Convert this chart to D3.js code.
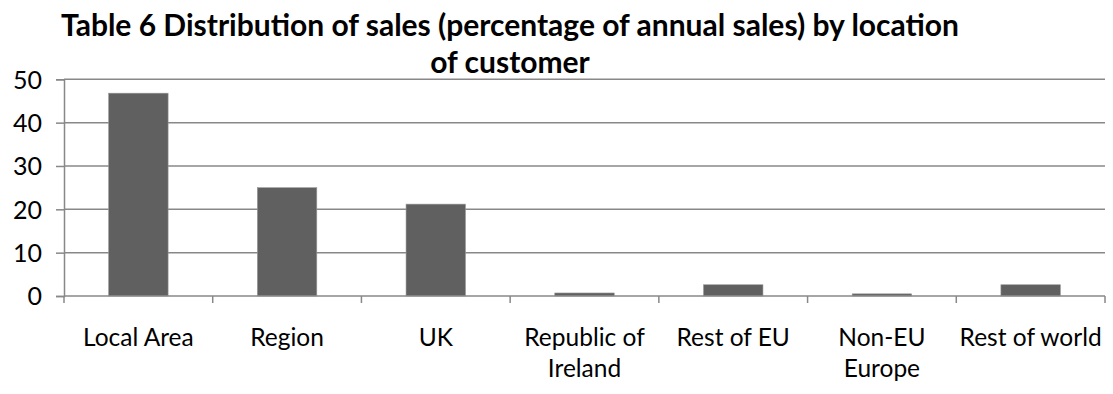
<!DOCTYPE html>
<html>
<head>
<meta charset="utf-8">
<script src="https://cdn.jsdelivr.net/npm/d3@7"></script>
<style>
  body { margin: 0; background: #fff; }
  text { font-family: Lato, sans-serif; fill: #000; }
</style>
</head>
<body>
<div id="container"></div>
<script>
const categories = ['Local Area', 'Region', 'UK', 'Republic of Ireland', 'Rest of EU', 'Non-EU Europe', 'Rest of world'];
const labelLines = [['Local Area'], ['Region'], ['UK'], ['Republic of', 'Ireland'], ['Rest of EU'], ['Non-EU', 'Europe'], ['Rest of world']];
const values = [46.8, 25.0, 21.2, 0.7, 2.6, 0.5, 2.6];
const yTicks = [0, 10, 20, 30, 40, 50];
const titleLines = ['Table 6 Distribution of sales (percentage of annual sales) by location', 'of customer'];

const config = {
    width: 1113,
    height: 394,
    left: 64,
    right: 1105,
    top: 79.3,
    bottom: 296,
}

const svg = d3.select('#container')
    .append('svg')
    .attr('width', config.width)
    .attr('height', config.height)

const x = d3.scaleBand()
    .domain(categories)
    .range([config.left, config.right])
    .paddingInner(0)
    .paddingOuter(0)

const y = d3.scaleLinear()
    .domain([0, 50])
    .range([config.bottom, config.top])

// gridlines
svg.append('g')
    .selectAll('line')
    .data(yTicks.filter(d => d > 0))
    .join('line')
    .attr('x1', config.left)
    .attr('x2', config.right)
    .attr('y1', d => y(d))
    .attr('y2', d => y(d))
    .attr('stroke', '#888')
    .attr('stroke-width', 1.5)

// y axis
const yAxis = svg.append('g')
    .attr('transform', `translate(${config.left},0)`)
    .call(d3.axisLeft(y).tickValues(yTicks).tickSize(8).tickPadding(14))
yAxis.select('.domain').attr('stroke', '#888').attr('stroke-width', 1.5)
yAxis.selectAll('.tick line').attr('stroke', '#888').attr('stroke-width', 1.5)
yAxis.selectAll('.tick text')
    .style('font-size', '25px')
    .attr('dy', '0.35em')

// bars
const barFrac = 0.4;
svg.append('g')
    .selectAll('rect')
    .data(values)
    .join('rect')
    .attr('x', (d, i) => x(categories[i]) + x.bandwidth() * (1 - barFrac) / 2)
    .attr('width', x.bandwidth() * barFrac)
    .attr('y', d => y(d))
    .attr('height', d => y(0) - y(d))
    .attr('fill', '#606060')
    .attr('stroke', '#9a9a9a')
    .attr('stroke-width', 0.6)

// x axis with ticks at category boundaries
const xAxis = svg.append('g')
    .attr('transform', `translate(0,${config.bottom})`)
xAxis.append('line')
    .attr('x1', config.left)
    .attr('x2', config.right)
    .attr('stroke', '#888')
    .attr('stroke-width', 1.5)
const boundaries = categories.map(c => x(c)).concat([config.right])
xAxis.selectAll('.xtick')
    .data(boundaries)
    .join('line')
    .attr('class', 'xtick')
    .attr('x1', d => d)
    .attr('x2', d => d)
    .attr('y1', 0)
    .attr('y2', 7)
    .attr('stroke', '#888')
    .attr('stroke-width', 1.5)

// category labels
const labels = svg.append('g')
    .selectAll('text')
    .data(labelLines)
    .join('text')
    .attr('text-anchor', 'middle')
    .style('font-size', '24.5px')
    .attr('transform', (d, i) => `translate(${x(categories[i]) + x.bandwidth() / 2},346)`)
labels.selectAll('tspan')
    .data(d => d)
    .join('tspan')
    .attr('x', 0)
    .attr('y', (d, i) => i * 31)
    .text(d => d)

// title
svg.append('g')
    .selectAll('text')
    .data(titleLines)
    .join('text')
    .attr('text-anchor', 'middle')
    .attr('x', 510)
    .attr('y', (d, i) => 36 + i * 37)
    .style('font-size', '30px')
    .style('font-weight', 'bold')
    .text(d => d)
</script>
</body>
</html>
